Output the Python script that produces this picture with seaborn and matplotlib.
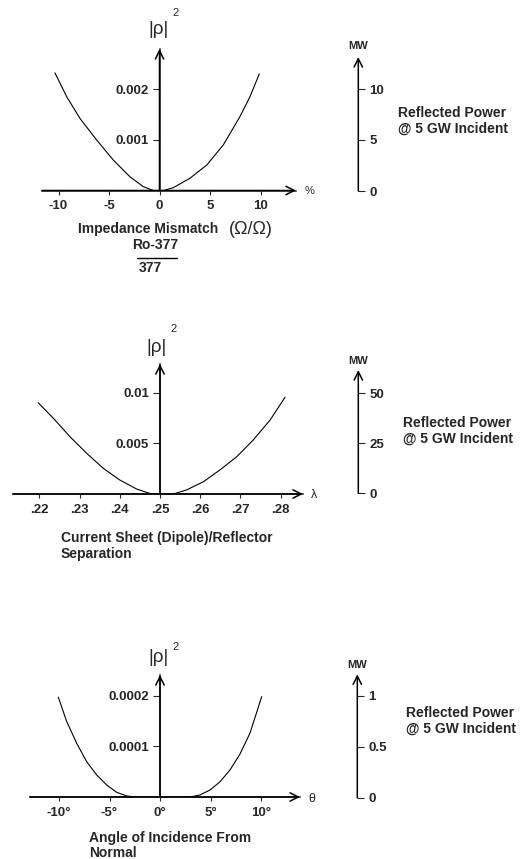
import matplotlib
matplotlib.use("Agg")
import matplotlib.pyplot as plt
from matplotlib.lines import Line2D
import seaborn as sns

W, H = 530, 859

# Panel 1: impedance mismatch (%) vs |rho|^2
mismatch_pct = [-10.35, -9.19, -7.87, -6.22, -4.57, -2.92, -1.6, -0.6, 0.4,
                1.37, 3.0, 4.67, 6.32, 7.97, 8.96, 9.88]
rho2_mismatch = [0.00232, 0.00185, 0.00142, 0.000996, 0.0006, 0.00027, 0.000075, 0.0, 0.0,
                 0.000056, 0.00024, 0.0005, 0.0009, 0.00146, 0.00185, 0.0023]
mismatch_ticks = [-10, -5, 0, 5, 10]
mismatch_labels = ["-10", "-5", "0", "5", "10"]
rho2_ticks_1 = [0.001, 0.002]
rho2_labels_1 = ["0.001", "0.002"]
mw_ticks_1 = [0, 5, 10]

# Panel 2: sheet/reflector separation (wavelengths) vs |rho|^2
separation = [0.2197, 0.2235, 0.2276, 0.2318, 0.2359, 0.24, 0.2442, 0.2479, 0.2533,
              0.2566, 0.2608, 0.2649, 0.2691, 0.2732, 0.2774, 0.2811]
rho2_separation = [0.009, 0.00746, 0.00565, 0.004, 0.00253, 0.00138, 0.00049, 0.0, 0.0,
                   0.0004, 0.00121, 0.00237, 0.00368, 0.00533, 0.0073, 0.00954]
sep_ticks = [0.22, 0.23, 0.24, 0.25, 0.26, 0.27, 0.28]
sep_labels = [".22", ".23", ".24", ".25", ".26", ".27", ".28"]
rho2_ticks_2 = [0.005, 0.01]
rho2_labels_2 = ["0.005", "0.01"]
mw_ticks_2 = [0, 25, 50]

# Panel 3: angle of incidence (deg) vs |rho|^2
angle_deg = [-10.07, -9.24, -8.25, -7.26, -6.27, -5.28, -4.29, -3.3, -2.3, 2.97,
             3.96, 4.95, 5.94, 6.93, 7.92, 8.91, 10.07]
rho2_angle = [0.000197, 0.000149, 0.000106, 0.0000697, 0.0000434, 0.0000237, 0.0000093,
              0.000002, 0.0, 0.0, 0.000004, 0.0000138, 0.00003, 0.0000533, 0.0000848,
              0.000126, 0.000198]
angle_ticks = [-10, -5, 0, 5, 10]
angle_labels = ["-10°", "-5°", "0°", "5°", "10°"]
rho2_ticks_3 = [0.0001, 0.0002]
rho2_labels_3 = ["0.0001", "0.0002"]
mw_ticks_3 = [0, 0.5, 1]
mw_labels_3 = ["0", "0.5", "1"]

sns.set_style("white")
plt.rcParams["font.family"] = ["Liberation Sans", "DejaVu Sans"]
plt.rcParams["font.weight"] = "bold"

fig = plt.figure(figsize=(W / 100, H / 100), dpi=100)

TICK_FS = 9.5
LABEL_FS = 10


def px_axes(x0, x1, y0, y1):
    return fig.add_axes([x0 / W, 1 - y1 / H, (x1 - x0) / W, (y1 - y0) / H])


def ptext(x, y, s, **kw):
    kw.setdefault("va", "center")
    fig.text(x / W, 1 - y / H, s, **kw)


arrow = dict(arrowstyle="->", lw=1.1, color="black", mutation_scale=15,
             shrinkA=0, shrinkB=0)


def panel(box, xlim, ylim, yaxis_x, x, y, xticks, xlabels, yticks, ylabels):
    ax = px_axes(*box)
    sns.lineplot(x=x, y=y, ax=ax, color="black", lw=0.8, sort=False)
    ax.set_xlim(xlim)
    ax.set_ylim(ylim)
    for s in ["top", "right"]:
        ax.spines[s].set_visible(False)
    ax.spines["left"].set_position(("data", yaxis_x))
    ax.spines["left"].set_linewidth(1.1)
    ax.spines["bottom"].set_linewidth(1.1)
    ax.annotate("", xy=(xlim[1], 0), xytext=(xlim[0], 0), arrowprops=arrow,
                annotation_clip=False)
    ax.annotate("", xy=(yaxis_x, ylim[1]), xytext=(yaxis_x, 0), arrowprops=arrow,
                annotation_clip=False)
    ax.set_xticks(xticks, xlabels)
    ax.set_yticks(yticks, ylabels)
    ax.tick_params(axis="x", direction="out", length=3, width=0.8, pad=4,
                   labelsize=TICK_FS, bottom=True)
    ax.tick_params(axis="y", direction="out", length=5, width=0.8, pad=3,
                   labelsize=TICK_FS, left=True)
    ax.set_xlabel("")
    ax.set_ylabel("")
    ax.patch.set_alpha(0)
    return ax


def mw_axis(xpx, y0, y1, top, ticks, labels):
    ax = px_axes(xpx - 10, xpx, y0, y1)
    ax.set_ylim(0, top)
    ax.set_xticks([])
    for s in ["top", "left", "bottom", "right"]:
        ax.spines[s].set_visible(False)
    ax.yaxis.tick_right()
    ax.set_yticks(ticks, labels)
    ax.tick_params(axis="y", direction="out", length=5, width=0.8, pad=3,
                   labelsize=TICK_FS, right=True)
    ax.annotate("", xy=(1, 1), xytext=(1, 0), xycoords="axes fraction",
                arrowprops=arrow, annotation_clip=False)
    ax.patch.set_alpha(0)
    return ax


def rho_label(x, y, x2, y2):
    ptext(x, y, "|ρ|", ha="center", fontsize=13.5, fontweight="normal")
    ptext(x2, y2, "2", ha="center", fontsize=8, fontweight="normal")


def power_label(x, y, mwx, mwy):
    ptext(mwx, mwy, "MW", ha="center", fontsize=8)
    ptext(x, y, "Reflected Power", ha="left", fontsize=LABEL_FS)
    ptext(x, y + 15.6, "@ 5 GW Incident", ha="left", fontsize=LABEL_FS)


# ---- panel 1
panel((42, 296, 49, 190.5),
      ((42 - 159.5) / 10.1, (296 - 159.5) / 10.1), (0, 141.5 * 0.001 / 50.7), 0,
      mismatch_pct, rho2_mismatch, mismatch_ticks, mismatch_labels,
      rho2_ticks_1, rho2_labels_1)
mw_axis(358.3, 57, 191, 134 / 10.2, mw_ticks_1, [str(t) for t in mw_ticks_1])
rho_label(158.3, 29.3, 176, 13.3)
power_label(398.3, 112.7, 358.3, 46)
ptext(305, 191.5, "%", ha="left", fontsize=8, fontweight="normal")
ptext(78, 229, "Impedance Mismatch", ha="left", fontsize=LABEL_FS)
ptext(251, 229, "(Ω/Ω)", ha="center", fontsize=13, fontweight="normal")
ptext(155, 245, "Ro-377", ha="center", fontsize=LABEL_FS)
fig.add_artist(Line2D([136.7 / W, 176.7 / W], [1 - 257.7 / H] * 2,
                      color="black", lw=1.0))
ptext(150, 268, "377", ha="center", fontsize=LABEL_FS)

# ---- panel 2
panel((13, 303, 364, 494),
      (0.25 + (13 - 160) / 4020, 0.25 + (303 - 160) / 4020), (0, 130 * 0.005 / 50.7), 0.25,
      separation, rho2_separation, sep_ticks, sep_labels,
      rho2_ticks_2, rho2_labels_2)
mw_axis(358.3, 370, 493.3, 123.3 / 2.0, mw_ticks_2, [str(t) for t in mw_ticks_2])
rho_label(156.7, 347.3, 173.3, 329.3)
power_label(403.3, 422.7, 358.3, 360.7)
ptext(314, 494.5, "λ", ha="center", fontsize=9, fontweight="normal")
ptext(61, 538.3, "Current Sheet (Dipole)/Reflector", ha="left", fontsize=LABEL_FS)
ptext(61, 554.3, "Separation", ha="left", fontsize=LABEL_FS)

# ---- panel 3
panel((30, 300, 675, 797),
      ((30 - 160) / 10.1, (300 - 160) / 10.1), (0, 122 * 0.0001 / 50.7), 0,
      angle_deg, rho2_angle, angle_ticks, angle_labels,
      rho2_ticks_3, rho2_labels_3)
mw_axis(357.3, 674.3, 797.7, 123.4 / 101.7, mw_ticks_3, mw_labels_3)
rho_label(158.3, 657.3, 176, 646.7)
power_label(406, 713.3, 357.3, 665)
ptext(312, 799, "θ", ha="center", fontsize=9, fontweight="normal")
ptext(89.3, 837.7, "Angle of Incidence From", ha="left", fontsize=LABEL_FS)
ptext(89.3, 853.3, "Normal", ha="left", fontsize=LABEL_FS)

fig.savefig("out.png", dpi=100)
